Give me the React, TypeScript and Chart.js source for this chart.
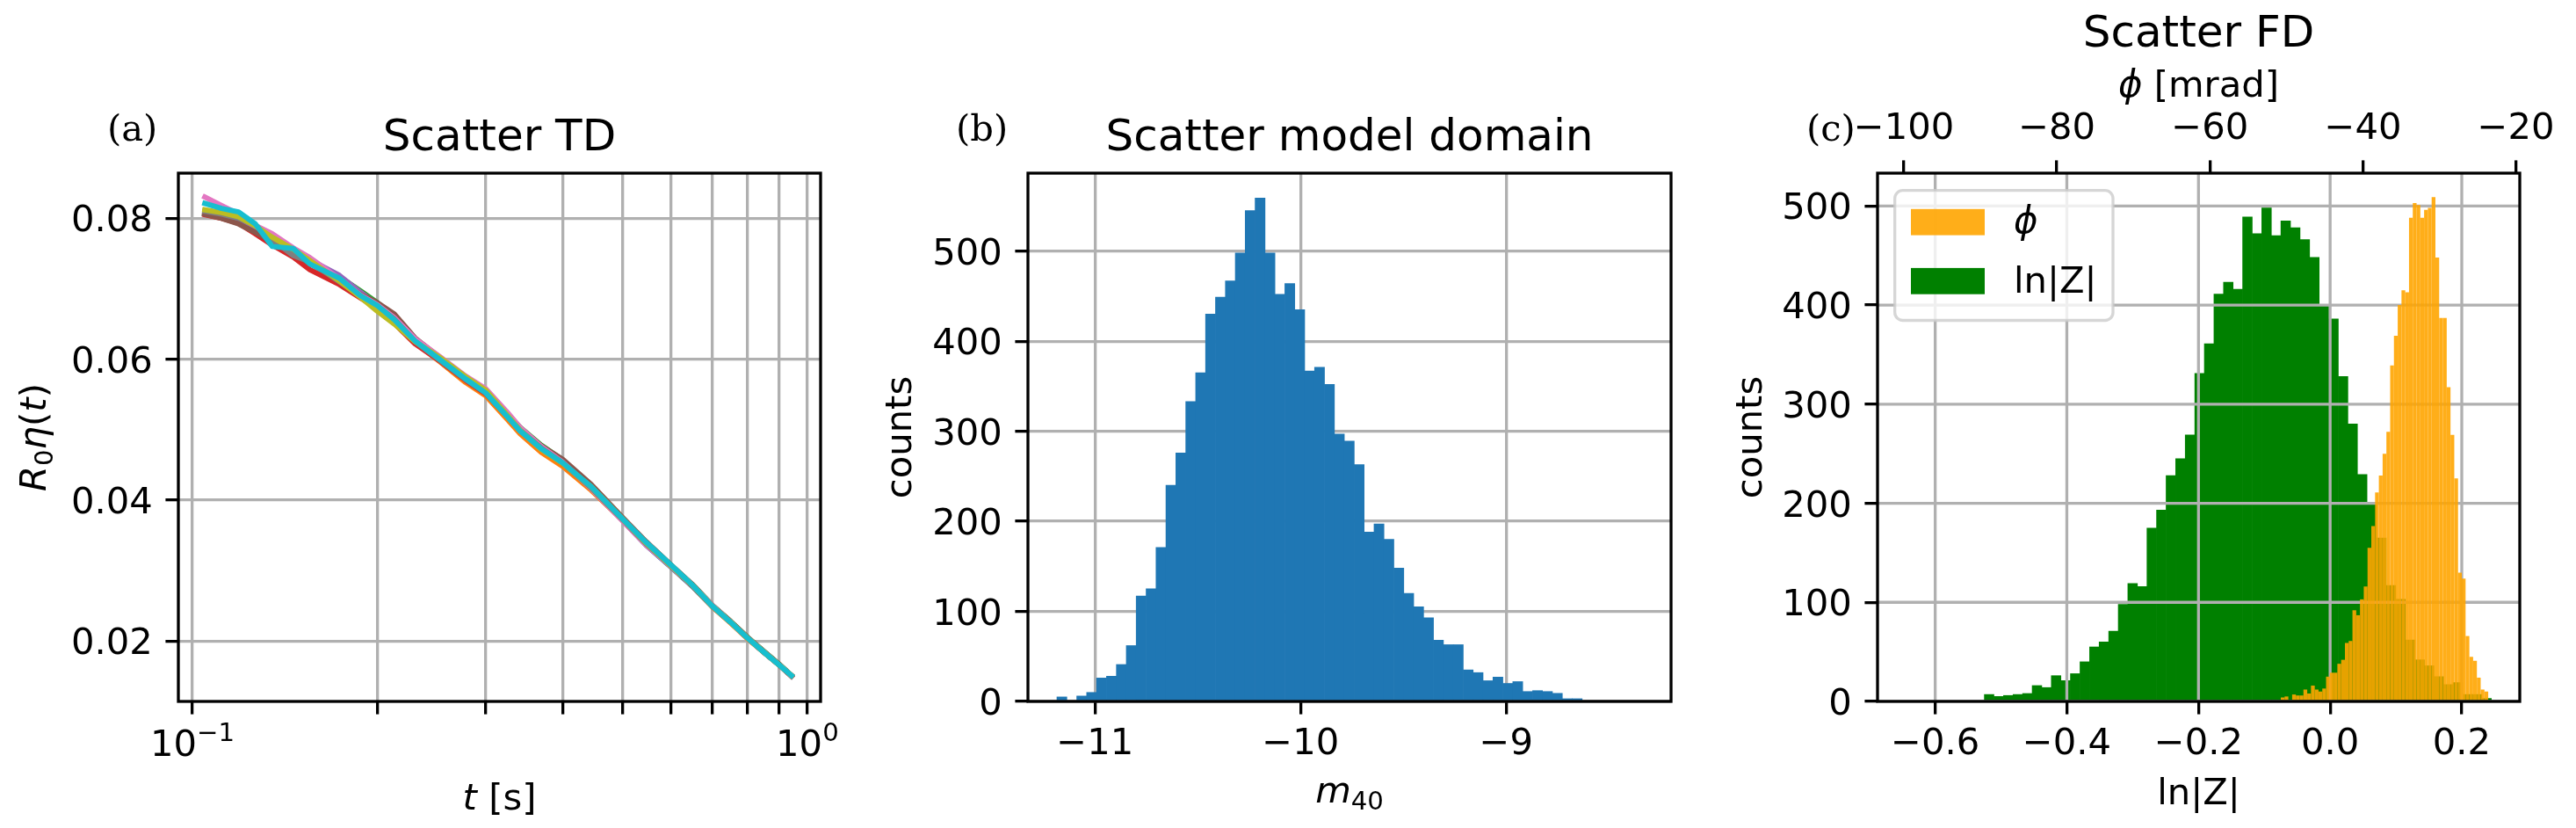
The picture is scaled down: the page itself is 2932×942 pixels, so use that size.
import React, { useEffect, useRef } from 'react';
import { Chart, registerables } from 'chart.js';

Chart.register(...registerables);

// ---------------- data ----------------
// Panel (a): time-domain scatter curves
const tdTimes = [0.1048, 0.1116, 0.1189, 0.1266, 0.1349, 0.1459, 0.1553, 0.1734, 0.1877, 0.2, 0.213, 0.2302, 0.2531, 0.2782, 0.3, 0.3256, 0.3413, 0.3692, 0.4, 0.4454, 0.5, 0.5469, 0.6, 0.6494, 0.7, 0.7499, 0.8, 0.8505, 0.9, 0.9424];
const tdBlue = [0.0806, 0.0801, 0.0795, 0.0784, 0.0770, 0.0757, 0.0742, 0.0716, 0.0694, 0.0679, 0.0662, 0.0629, 0.0601, 0.0574, 0.0555, 0.0521, 0.0501, 0.0475, 0.0452, 0.0417, 0.0372, 0.0336, 0.0305, 0.0278, 0.0249, 0.0227, 0.0204, 0.0184, 0.0166, 0.0150];
const tdOrange = [0.0808, 0.0803, 0.0797, 0.0786, 0.0772, 0.0755, 0.0740, 0.0713, 0.0690, 0.0674, 0.0655, 0.0624, 0.0596, 0.0567, 0.0548, 0.0514, 0.0494, 0.0468, 0.0448, 0.0414, 0.0372, 0.0338, 0.0306, 0.0279, 0.0249, 0.0226, 0.0203, 0.0184, 0.0166, 0.0151];
const tdGreen = [0.0807, 0.0802, 0.0798, 0.0785, 0.0771, 0.0754, 0.0739, 0.0717, 0.0697, 0.0680, 0.0660, 0.0627, 0.0600, 0.0573, 0.0553, 0.0522, 0.0503, 0.0478, 0.0457, 0.0421, 0.0375, 0.0340, 0.0308, 0.0280, 0.0251, 0.0228, 0.0205, 0.0185, 0.0167, 0.0151];
const tdRed = [0.0805, 0.0800, 0.0793, 0.0778, 0.0762, 0.0745, 0.0727, 0.0706, 0.0687, 0.0672, 0.0651, 0.0622, 0.0597, 0.0570, 0.0551, 0.0519, 0.0499, 0.0473, 0.0452, 0.0418, 0.0373, 0.0339, 0.0307, 0.0279, 0.0250, 0.0227, 0.0204, 0.0184, 0.0166, 0.0150];
const tdPurple = [0.0809, 0.0804, 0.0799, 0.0787, 0.0766, 0.0752, 0.0741, 0.0719, 0.0695, 0.0677, 0.0658, 0.0628, 0.0600, 0.0572, 0.0553, 0.0520, 0.0500, 0.0474, 0.0453, 0.0418, 0.0374, 0.0339, 0.0307, 0.0280, 0.0250, 0.0227, 0.0204, 0.0184, 0.0166, 0.0151];
const tdBrown = [0.0806, 0.0800, 0.0792, 0.0780, 0.0768, 0.0750, 0.0736, 0.0712, 0.0692, 0.0680, 0.0664, 0.0630, 0.0602, 0.0575, 0.0556, 0.0522, 0.0502, 0.0477, 0.0458, 0.0422, 0.0376, 0.0341, 0.0308, 0.0281, 0.0251, 0.0228, 0.0205, 0.0185, 0.0167, 0.0151];
const tdPink = [0.0830, 0.0818, 0.0806, 0.0790, 0.0778, 0.0758, 0.0744, 0.0714, 0.0691, 0.0677, 0.0659, 0.0629, 0.0603, 0.0576, 0.0558, 0.0524, 0.0503, 0.0476, 0.0454, 0.0416, 0.0371, 0.0336, 0.0306, 0.0279, 0.0251, 0.0227, 0.0204, 0.0184, 0.0166, 0.0151];
const tdGray = [0.0810, 0.0806, 0.0800, 0.0790, 0.0770, 0.0747, 0.0738, 0.0710, 0.0690, 0.0675, 0.0657, 0.0625, 0.0598, 0.0571, 0.0552, 0.0519, 0.0499, 0.0474, 0.0453, 0.0417, 0.0373, 0.0338, 0.0307, 0.0279, 0.0250, 0.0227, 0.0204, 0.0184, 0.0166, 0.0151];
const tdOlive = [0.0812, 0.0808, 0.0802, 0.0789, 0.0773, 0.0756, 0.0740, 0.0711, 0.0688, 0.0668, 0.0650, 0.0625, 0.0602, 0.0575, 0.0556, 0.0520, 0.0499, 0.0472, 0.0452, 0.0419, 0.0374, 0.0339, 0.0307, 0.0280, 0.0250, 0.0227, 0.0204, 0.0184, 0.0166, 0.0151];
const tdCyan = [0.0821, 0.0814, 0.0809, 0.0792, 0.0760, 0.0757, 0.0735, 0.0715, 0.0690, 0.0676, 0.0656, 0.0626, 0.0599, 0.0572, 0.0552, 0.0518, 0.0498, 0.0473, 0.0453, 0.0419, 0.0374, 0.0340, 0.0308, 0.0280, 0.0250, 0.0227, 0.0204, 0.0184, 0.0166, 0.0151];
const tdSeries = [tdBlue, tdOrange, tdGreen, tdRed, tdPurple, tdBrown, tdPink, tdGray, tdOlive, tdCyan];
const tdColors = ['#1f77b4', '#ff7f0e', '#2ca02c', '#d62728', '#9467bd', '#8c564b', '#e377c2', '#7f7f7f', '#bcbd22', '#17becf'];

const tdYTicks = [0.02, 0.04, 0.06, 0.08];
const tdYTickLabels = ['0.02', '0.04', '0.06', '0.08'];
const tdXGridTicks = [0.1, 0.2, 0.3, 0.4, 0.5, 0.6, 0.7, 0.8, 0.9, 1.0];
const tdXMajorTicks = [0.1, 1.0];
const tdXMajorExp = ['−1', '0'];

// Panel (b): histogram of m40
const m40BinStart = -11.185;
const m40BinWidth = 0.0482;
const m40Counts = [5, 0, 6, 10, 26, 28, 41, 62, 117, 125, 171, 240, 276, 333, 365, 430, 449, 467, 498, 545, 559, 498, 452, 464, 435, 367, 371, 352, 297, 289, 263, 188, 197, 180, 148, 120, 105, 93, 68, 63, 63, 35, 32, 23, 27, 20, 22, 11, 12, 11, 9, 3, 3];
const m40Ticks = [-11, -10, -9];
const m40TickLabels = ['−11', '−10', '−9'];
const countTicks = [0, 100, 200, 300, 400, 500];
const countTickLabels = ['0', '100', '200', '300', '400', '500'];

// Panel (c): histograms of ln|Z| (bottom axis) and phi in mrad (top axis)
const lnZBinStart = -0.5253;
const lnZBinWidth = 0.014533;
const lnZCounts = [7, 5, 6, 7, 8, 16, 14, 26, 21, 28, 40, 55, 60, 71, 98, 119, 116, 175, 193, 228, 245, 269, 331, 361, 411, 423, 416, 489, 472, 498, 470, 485, 478, 466, 448, 400, 386, 328, 280, 229, 200, 165, 117, 103, 62, 42, 36, 25, 17, 19, 7, 7, 3];
const phiBinStart = -50.73;
const phiBinWidth = 0.4929;
const phiCounts = [4, 5, 0, 7, 6, 6, 12, 8, 16, 12, 10, 13, 25, 29, 29, 38, 42, 59, 61, 92, 87, 103, 116, 155, 177, 211, 228, 250, 272, 339, 369, 400, 415, 413, 488, 503, 501, 488, 496, 498, 509, 448, 387, 387, 317, 269, 225, 130, 124, 66, 45, 41, 24, 12, 10];
const lnZTicks = [-0.6, -0.4, -0.2, 0.0, 0.2];
const lnZTickLabels = ['−0.6', '−0.4', '−0.2', '0.0', '0.2'];
const phiTicks = [-100, -80, -60, -40, -20];
const phiTickLabels = ['−100', '−80', '−60', '−40', '−20'];

// ---------------- style / layout ----------------
const W = 2932;
const H = 942;
const FS = 41.7;
const TFS = 50;
const SANS = '"DejaVu Sans", sans-serif';
const SERIF = '"DejaVu Serif", serif';
const GRID = '#b0b0b0';
const LW = 3.3;
const TICK = 14.6;
const AREA_A = { left: 203, top: 197, right: 934, bottom: 798 };
const AREA_B = { left: 1170, top: 197, right: 1902, bottom: 798 };
const AREA_C = { left: 2137, top: 197, right: 2868, bottom: 798 };

type Seg = { t: string; it?: boolean; s?: number; dy?: number };

function fontOf(size: number, italic: boolean | undefined, family: string) {
  return `${italic ? 'italic ' : ''}${size}px ${family}`;
}

function drawRich(ctx: CanvasRenderingContext2D, segs: Seg[], x: number, y: number, align: 'left' | 'center' | 'right', size = FS, family = SANS) {
  ctx.textAlign = 'left';
  ctx.textBaseline = 'alphabetic';
  let total = 0;
  const widths: number[] = [];
  for (const s of segs) {
    ctx.font = fontOf(size * (s.s || 1), s.it, family);
    const w = ctx.measureText(s.t).width;
    widths.push(w);
    total += w;
  }
  let cx = align === 'center' ? x - total / 2 : align === 'right' ? x - total : x;
  segs.forEach((s, i) => {
    ctx.font = fontOf(size * (s.s || 1), s.it, family);
    ctx.fillText(s.t, cx, y + (s.dy || 0));
    cx += widths[i];
  });
}

function drawRotated(ctx: CanvasRenderingContext2D, segs: Seg[], x: number, y: number) {
  ctx.save();
  ctx.translate(x, y);
  ctx.rotate(-Math.PI / 2);
  drawRich(ctx, segs, 0, 0, 'center');
  ctx.restore();
}

function drawSpines(ctx: CanvasRenderingContext2D, a: any) {
  ctx.save();
  ctx.strokeStyle = '#000';
  ctx.lineWidth = LW;
  ctx.lineJoin = 'miter';
  ctx.strokeRect(a.left, a.top, a.right - a.left, a.bottom - a.top);
  ctx.restore();
}

function padFor(a: { left: number; top: number; right: number; bottom: number }) {
  return { left: a.left, top: a.top, right: W - a.right, bottom: H - a.bottom };
}

const gridOpts = (onArea: boolean) => ({
  display: true,
  drawOnChartArea: onArea,
  drawTicks: true,
  offset: false,
  color: GRID,
  lineWidth: LW,
  tickLength: TICK,
  tickColor: '#000',
  tickWidth: LW,
});

function axisOpts(axis: 'x' | 'y', tickValues: number[], onArea: boolean, extra: any) {
  return {
    bounds: 'data',
    offset: false,
    grid: gridOpts(onArea),
    border: { display: false },
    ticks: { display: false },
    afterBuildTicks: (s: any) => {
      s.ticks = tickValues.map((v) => ({ value: v }));
    },
    afterFit: (s: any) => {
      if (axis === 'x') s.height = 0;
      else s.width = 0;
    },
    ...extra,
  };
}

const baseOptions = (area: any) => ({
  animation: false,
  responsive: false,
  devicePixelRatio: 1,
  events: [],
  layout: { padding: padFor(area), autoPadding: false },
  plugins: { legend: { display: false }, tooltip: { enabled: false }, title: { display: false } },
});

function yTickLabels(ctx: CanvasRenderingContext2D, a: any, ys: any, values: number[], labels: string[]) {
  values.forEach((v, i) => drawRich(ctx, [{ t: labels[i] }], a.left - 2 * TICK, ys.getPixelForValue(v) + 15, 'right'));
}

// ---------------- charts ----------------
function configA(): any {
  const datasets = tdSeries
    .map((s, i) => ({
      data: tdTimes.map((t, j) => ({ x: t, y: s[j] })),
      borderColor: tdColors[i],
      backgroundColor: tdColors[i],
      borderWidth: 6,
      pointRadius: 0,
      tension: 0,
      fill: false,
      borderJoinStyle: 'round',
      borderCapStyle: 'square',
    }))
    .reverse();
  return {
    type: 'line',
    data: { datasets },
    options: {
      ...baseOptions(AREA_A),
      scales: {
        x: axisOpts('x', tdXGridTicks, true, { type: 'logarithmic', position: 'bottom', min: 0.0949, max: 1.0509 }),
        y: axisOpts('y', tdYTicks, true, { type: 'linear', position: 'left', min: 0.01143, max: 0.0864 }),
      },
    },
    plugins: [
      {
        id: 'textA',
        afterDraw(chart: any) {
          const ctx = chart.ctx as CanvasRenderingContext2D;
          const a = chart.chartArea;
          ctx.save();
          drawSpines(ctx, a);
          ctx.fillStyle = '#000';
          yTickLabels(ctx, a, chart.scales.y, tdYTicks, tdYTickLabels);
          tdXMajorTicks.forEach((v, i) =>
            drawRich(ctx, [{ t: '10' }, { t: tdXMajorExp[i], s: 0.7, dy: -17 }], chart.scales.x.getPixelForValue(v), a.bottom + 62, 'center'),
          );
          drawRich(ctx, [{ t: 't', it: true }, { t: ' [s]' }], (a.left + a.right) / 2, a.bottom + 123, 'center');
          drawRotated(
            ctx,
            [{ t: 'R', it: true }, { t: '0', s: 0.7, dy: 8.4 }, { t: 'η', it: true }, { t: '(' }, { t: 't', it: true }, { t: ')' }],
            a.left - 151,
            (a.top + a.bottom) / 2,
          );
          drawRich(ctx, [{ t: 'Scatter TD' }], (a.left + a.right) / 2, a.top - 26, 'center', TFS);
          drawRich(ctx, [{ t: '(a)' }], a.left - 81, 159.5, 'left', FS, SERIF);
          ctx.restore();
        },
      },
    ],
  };
}

function configB(): any {
  return {
    type: 'bar',
    data: {
      datasets: [
        {
          data: m40Counts.map((c, i) => ({ x: m40BinStart + (i + 0.5) * m40BinWidth, y: c })),
          backgroundColor: '#1f77b4',
          borderWidth: 0,
          barPercentage: 1,
          categoryPercentage: 1,
          grouped: false,
        },
      ],
    },
    options: {
      ...baseOptions(AREA_B),
      scales: {
        x: axisOpts('x', m40Ticks, true, { type: 'linear', position: 'bottom', min: -11.326, max: -8.198, z: 1 }),
        y: axisOpts('y', countTicks, true, { type: 'linear', position: 'left', min: 0, max: 586.6, z: 1 }),
      },
    },
    plugins: [
      {
        id: 'textB',
        afterDraw(chart: any) {
          const ctx = chart.ctx as CanvasRenderingContext2D;
          const a = chart.chartArea;
          ctx.save();
          drawSpines(ctx, a);
          ctx.fillStyle = '#000';
          yTickLabels(ctx, a, chart.scales.y, countTicks, countTickLabels);
          m40Ticks.forEach((v, i) => drawRich(ctx, [{ t: m40TickLabels[i] }], chart.scales.x.getPixelForValue(v), a.bottom + 60, 'center'));
          drawRich(ctx, [{ t: 'm', it: true }, { t: '40', s: 0.7, dy: 8.4 }], (a.left + a.right) / 2, a.bottom + 115, 'center');
          drawRotated(ctx, [{ t: 'counts' }], a.left - 133, (a.top + a.bottom) / 2);
          drawRich(ctx, [{ t: 'Scatter model domain' }], (a.left + a.right) / 2, a.top - 26, 'center', TFS);
          drawRich(ctx, [{ t: '(b)' }], a.left - 82, 159.5, 'left', FS, SERIF);
          ctx.restore();
        },
      },
    ],
  };
}

function roundRectPath(ctx: CanvasRenderingContext2D, x: number, y: number, w: number, h: number, r: number) {
  ctx.beginPath();
  ctx.moveTo(x + r, y);
  ctx.arcTo(x + w, y, x + w, y + h, r);
  ctx.arcTo(x + w, y + h, x, y + h, r);
  ctx.arcTo(x, y + h, x, y, r);
  ctx.arcTo(x, y, x + w, y, r);
  ctx.closePath();
}

const ORANGE = 'rgba(255,165,0,0.9)';
const GREEN = '#008000';

function configC(): any {
  return {
    type: 'bar',
    data: {
      datasets: [
        {
          label: 'ϕ',
          xAxisID: 'x2',
          data: phiCounts.map((c, i) => ({ x: phiBinStart + (i + 0.5) * phiBinWidth, y: c })),
          backgroundColor: ORANGE,
          borderWidth: 0,
          inflateAmount: 0,
          barPercentage: 1,
          categoryPercentage: 1,
          grouped: false,
        },
        {
          label: 'ln|Z|',
          xAxisID: 'x',
          data: lnZCounts.map((c, i) => ({ x: lnZBinStart + (i + 0.5) * lnZBinWidth, y: c })),
          backgroundColor: GREEN,
          borderWidth: 0,
          barPercentage: 1,
          categoryPercentage: 1,
          grouped: false,
        },
      ],
    },
    options: {
      ...baseOptions(AREA_C),
      scales: {
        x: axisOpts('x', lnZTicks, false, { type: 'linear', position: 'bottom', min: -0.6876, max: 0.2881 }),
        x2: axisOpts('x', phiTicks, false, { type: 'linear', position: 'top', min: -103.445, max: -19.495 }),
        y: axisOpts('y', countTicks, false, { type: 'linear', position: 'left', min: 0, max: 533.1 }),
      },
    },
    plugins: [
      {
        id: 'gridC',
        afterDatasetDraw(chart: any, args: any) {
          if (args.index !== 1) return;
          const ctx = chart.ctx as CanvasRenderingContext2D;
          const a = chart.chartArea;
          ctx.save();
          ctx.beginPath();
          ctx.rect(a.left, a.top, a.right - a.left, a.bottom - a.top);
          ctx.clip();
          ctx.strokeStyle = GRID;
          ctx.lineWidth = LW;
          ctx.beginPath();
          lnZTicks.forEach((v) => {
            const px = chart.scales.x.getPixelForValue(v);
            ctx.moveTo(px, a.top);
            ctx.lineTo(px, a.bottom);
          });
          countTicks.forEach((v) => {
            const py = chart.scales.y.getPixelForValue(v);
            ctx.moveTo(a.left, py);
            ctx.lineTo(a.right, py);
          });
          ctx.stroke();
          ctx.restore();
        },
      },
      {
        id: 'textC',
        afterDraw(chart: any) {
          const ctx = chart.ctx as CanvasRenderingContext2D;
          const a = chart.chartArea;
          ctx.save();
          drawSpines(ctx, a);
          ctx.fillStyle = '#000';
          yTickLabels(ctx, a, chart.scales.y, countTicks, countTickLabels);
          lnZTicks.forEach((v, i) => drawRich(ctx, [{ t: lnZTickLabels[i] }], chart.scales.x.getPixelForValue(v), a.bottom + 60, 'center'));
          phiTicks.forEach((v, i) => drawRich(ctx, [{ t: phiTickLabels[i] }], chart.scales.x2.getPixelForValue(v), a.top - 39, 'center'));
          drawRich(ctx, [{ t: 'ln|Z|' }], (a.left + a.right) / 2, a.bottom + 117, 'center');
          drawRich(ctx, [{ t: 'ϕ', it: true }, { t: ' [mrad]' }], (a.left + a.right) / 2, a.top - 87, 'center');
          drawRotated(ctx, [{ t: 'counts' }], a.left - 132, (a.top + a.bottom) / 2);
          drawRich(ctx, [{ t: 'Scatter FD' }], (a.left + a.right) / 2, 53, 'center', TFS);
          drawRich(ctx, [{ t: '(c)' }], a.left - 81, 159.5, 'left', FS, SERIF);

          // legend
          const lx = a.left + 19.7;
          const ly = a.top + 19.7;
          roundRectPath(ctx, lx, ly, 248.3, 147.8, 9);
          ctx.fillStyle = 'rgba(255,255,255,0.8)';
          ctx.fill();
          ctx.strokeStyle = 'rgba(204,204,204,0.8)';
          ctx.lineWidth = LW;
          ctx.stroke();
          const items = chart.data.datasets;
          const rowsY = [a.top + 40.8, a.top + 107.9];
          const rowsBase = [a.top + 68, a.top + 136];
          items.forEach((ds: any, i: number) => {
            ctx.fillStyle = ds.backgroundColor;
            ctx.fillRect(a.left + 38, rowsY[i], 84, 29.8);
            ctx.fillStyle = '#000';
            const segs: Seg[] = i === 0 ? [{ t: ds.label, it: true }] : [{ t: ds.label }];
            drawRich(ctx, segs, a.left + 155, rowsBase[i], 'left');
          });
          ctx.restore();
        },
      },
    ],
  };
}

function ChartCanvas({ make }: { make: () => any }) {
  const ref = useRef<HTMLCanvasElement | null>(null);
  useEffect(() => {
    if (!ref.current) return;
    const chart = new Chart(ref.current, make());
    return () => chart.destroy();
  }, [make]);
  return <canvas ref={ref} width={W} height={H} style={{ position: 'absolute', left: 0, top: 0, width: W, height: H }} />;
}

export default function App() {
  return (
    <div style={{ position: 'fixed', left: 0, top: 0, width: W, height: H, background: '#ffffff', overflow: 'hidden' }}>
      <ChartCanvas make={configA} />
      <ChartCanvas make={configB} />
      <ChartCanvas make={configC} />
    </div>
  );
}
